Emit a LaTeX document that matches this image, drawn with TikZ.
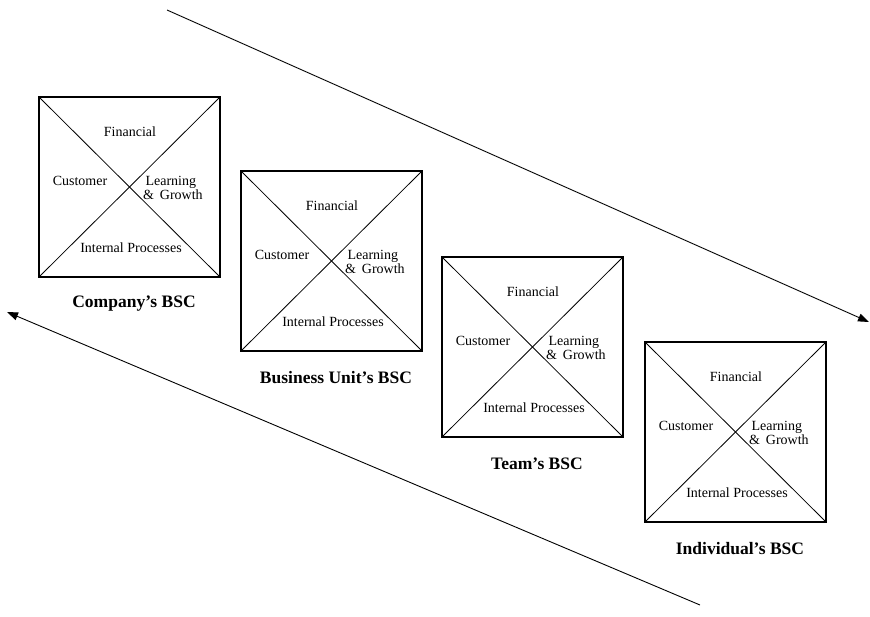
\documentclass[tikz,border=0pt]{standalone}
\usepackage{fontspec}
\setmainfont{Liberation Serif}
\usetikzlibrary{arrows.meta,calc}

\tikzset{
  bscbox/.style={draw=black, line width=1.3pt},
  diag/.style={draw=black, line width=0.8pt},
  inner/.style={font=\fontsize{14}{15}\selectfont, inner sep=0pt},
  caption/.style={font=\fontsize{17.5}{19}\selectfont\bfseries, inner sep=0pt},
  flow/.style={draw=black, line width=0.9pt, -{Triangle[length=11pt,width=8pt]}}
}

% one scorecard: square with both diagonals and the four perspectives
\newcommand{\scorecard}[4]{%
  \coordinate (#1tl) at (#2,#3);
  \coordinate (#1br) at ($(#2,#3)+(181,180)$);
  \coordinate (#1tr) at ($(#2,#3)+(181,0)$);
  \coordinate (#1bl) at ($(#2,#3)+(0,180)$);
  \draw[bscbox] (#1tl) rectangle (#1br);
  \draw[diag] (#1tl) -- (#1br);
  \draw[diag] (#1tr) -- (#1bl);
  \node[inner] (#1fin) at ($(#2,#3)+(91,35)$) {Financial};
  \node[inner] (#1cus) at ($(#2,#3)+(41,84)$) {Customer};
  \node[inner, align=left, anchor=west] (#1lg) at ($(#2,#3)+(104,91)$) {\,Learning\\[-1pt]\& \,Growth};
  \node[inner] (#1ip) at ($(#2,#3)+(92,151)$) {Internal Processes};
  \node[caption] (#1cap) at ($(#2,#3)+(95,207)$) {#4};
}

\begin{document}
\begin{tikzpicture}[x=1pt, y=-1pt]
  \useasboundingbox (0,0) rectangle (870,616);

  \scorecard{a}{39}{97}{Company’s BSC}
  \scorecard{b}{241}{171}{Business Unit’s BSC}
  \scorecard{c}{442}{257}{Team’s BSC}
  \scorecard{d}{645}{342}{Individual’s BSC}

  % cascading down and feeding back up
  \coordinate (downstart) at (167,10);
  \coordinate (downend) at (869,322);
  \coordinate (upstart) at (700,605);
  \coordinate (upend) at (7,312);
  \draw[flow] (downstart) -- (downend);
  \draw[flow] (upstart) -- (upend);
\end{tikzpicture}
\end{document}
